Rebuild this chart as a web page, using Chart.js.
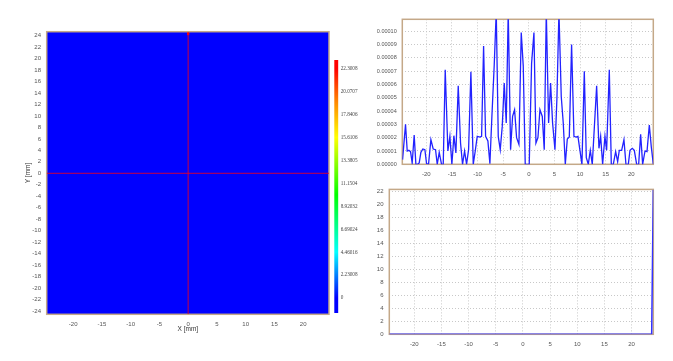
<!DOCTYPE html>
<html><head><meta charset="utf-8">
<script src="https://cdn.jsdelivr.net/npm/chart.js@4/dist/chart.umd.min.js"></script>
<style>
html,body{margin:0;padding:0;background:#fff;width:673px;height:361px;overflow:hidden;position:relative;}
canvas{position:absolute;}
</style></head><body>
<canvas id="heat" style="left:0;top:0;width:333px;height:361px" width="333" height="361"></canvas>
<canvas id="cbar" style="left:330px;top:0;width:43px;height:361px" width="43" height="361"></canvas>
<canvas id="profx" style="left:360px;top:0;width:313px;height:180px" width="313" height="180"></canvas>
<canvas id="profy" style="left:360px;top:180px;width:313px;height:181px" width="313" height="181"></canvas>
<script>
// ---------------- data ----------------
// heat map (field in the X/Y plane)
const heatXTicks = [-20, -15, -10, -5, 0, 5, 10, 15, 20];
const heatYTicks = [-24, -22, -20, -18, -16, -14, -12, -10, -8, -6, -4, -2, 0, 2, 4, 6, 8, 10, 12, 14, 16, 18, 20, 22, 24];
const heatXRange = [-24.6, 24.5];
const heatYRange = [-24.6, 24.7];
const fieldBaseValue = 0;
const hotCellX = [0];
const hotCellY = [24.4];
const hotCellValue = [22.3008];
const cellWidth = 0.4;   // mm
const cellHeight = 0.6;  // mm
const cursorX = 0;
const cursorY = 0;

// colour bar
const cbTickValues = [22.3008, 20.0707, 17.8406, 15.6106, 13.3805, 11.1504, 8.92032, 6.69024, 4.46016, 2.23008, 0];
const cbTickLabels = ['22.3008', '20.0707', '17.8406', '15.6106', '13.3805', '11.1504', '8.92032', '6.69024', '4.46016', '2.23008', '0'];
const cbRange = [-1.46, 23.15];
const valueMin = 0;
const valueMax = 22.3008;

// profile along X (top right)
const profXPos = [-24.65, -24.07, -23.74, -23.42, -23.09, -22.77, -22.38, -22.05, -21.72, -21.40, -21.07, -20.68, -20.29, -19.97, -19.58, -19.12, -18.67, -18.21, -17.88, -17.49, -17.04, -16.71, -16.32, -15.80, -15.41, -15.02, -14.63, -14.24, -13.78, -13.33, -12.94, -12.54, -12.15, -11.76, -11.31, -10.85, -10.46, -10.07, -9.55, -9.22, -8.83, -8.44, -7.99, -7.60, -7.21, -6.75, -6.36, -5.97, -5.58, -5.19, -4.80, -4.41, -4.02, -3.56, -3.17, -2.78, -2.39, -1.93, -1.48, -1.09, -0.70, -0.31, 0.08, 0.54, 1.00, 1.39, 1.78, 2.17, 2.63, 3.01, 3.41, 3.86, 4.25, 4.64, 5.10, 5.49, 5.88, 6.33, 6.72, 7.12, 7.51, 7.90, 8.35, 8.81, 9.20, 9.59, 9.98, 10.37, 10.83, 11.22, 11.61, 12.00, 12.39, 13.24, 13.69, 14.02, 14.41, 14.86, 15.19, 15.71, 16.10, 16.49, 16.95, 17.34, 17.66, 18.12, 18.57, 18.96, 19.42, 19.75, 20.20, 20.59, 21.05, 21.44, 21.83, 22.22, 22.68, 23.07, 23.52, 23.91, 24.30];
const profXVal = [0.35e-5, 3.0e-5, 1.0e-5, 1.05e-5, 0.95e-5, 0.1e-5, 2.2e-5, 0, 0, 0.1e-5, 0.9e-5, 1.15e-5, 1.1e-5, 0.05e-5, 0, 1.85e-5, 1.15e-5, 1.1e-5, 0, 0.9e-5, 0, 0, 7.1e-5, 1.0e-5, 2.1e-5, 0, 2.15e-5, 0.85e-5, 5.9e-5, 1.6e-5, 0, 1.0e-5, 0, 1.1e-5, 6.95e-5, 0, 1.0e-5, 2.1e-5, 2.05e-5, 2.1e-5, 8.9e-5, 2.1e-5, 1.75e-5, 0.05e-5, 3.6e-5, 7.5e-5, 11.5e-5, 2.1e-5, 1.1e-5, 2.85e-5, 6.1e-5, 3.1e-5, 11.5e-5, 1.1e-5, 3.6e-5, 4.1e-5, 2.0e-5, 1.5e-5, 9.9e-5, 7.4e-5, 0, 0, 0, 7.6e-5, 9.9e-5, 1.6e-5, 2.0e-5, 4.1e-5, 3.6e-5, 1.1e-5, 11.5e-5, 3.1e-5, 6.1e-5, 3.1e-5, 1.1e-5, 5.0e-5, 11.5e-5, 5.1e-5, 3.1e-5, 0, 1.9e-5, 2.05e-5, 9.0e-5, 2.1e-5, 2.05e-5, 2.1e-5, 1.05e-5, 0, 7.0e-5, 0.5e-5, 0, 1.05e-5, 0, 5.9e-5, 1.2e-5, 2.1e-5, 0, 2.1e-5, 1.05e-5, 7.1e-5, 0, 0, 0.95e-5, 0.2e-5, 1.05e-5, 1.05e-5, 1.85e-5, 0, 0, 1.05e-5, 1.2e-5, 1.05e-5, 0, 0, 2.25e-5, 0, 1.0e-5, 0.95e-5, 2.95e-5, 1.3e-5, 0];
const profXTicks = [-20, -15, -10, -5, 0, 5, 10, 15, 20];
const profXYTicks = [0, 0.00001, 0.00002, 0.00003, 0.00004, 0.00005, 0.00006, 0.00007, 0.00008, 0.00009, 0.0001];
const profXRange = [-24.7, 24.3];
const profXYMax = 0.000109;

// profile along Y (bottom right)
const profYPos = [-24.6, 23.7, 24.0];
const profYVal = [0, 0, 22.3008];
const profYXTicks = [-20, -15, -10, -5, 0, 5, 10, 15, 20];
const profYYTicks = [0, 2, 4, 6, 8, 10, 12, 14, 16, 18, 20, 22];
const profYRange = [-24.6, 24.0];
const profYYMax = 22.37;

// ---------------- styling / helpers ----------------
Chart.defaults.font.family = "'Liberation Sans', Arial, sans-serif";
Chart.defaults.color = '#555';
const FRAME = '#c4a888';
const cmapStops = [[0, [0, 0, 255]], [0.2, [0, 255, 255]], [0.45, [0, 255, 0]], [0.7, [255, 255, 0]], [0.85, [255, 140, 0]], [1, [255, 0, 0]]];
function cmap(v) {
  let t = (v - valueMin) / (valueMax - valueMin);
  t = Math.max(0, Math.min(1, t));
  for (let i = 1; i < cmapStops.length; i++) {
    if (t <= cmapStops[i][0]) {
      const [t0, c0] = cmapStops[i - 1], [t1, c1] = cmapStops[i];
      const f = (t - t0) / (t1 - t0);
      return 'rgb(' + c0.map((c, j) => Math.round(c + (c1[j] - c) * f)).join(',') + ')';
    }
  }
  return 'rgb(255,0,0)';
}
const fixTicks = arr => s => { s.ticks = arr.map(v => ({value: v})); };
const framePlugin = {
  id: 'frame',
  beforeDatasetsDraw(chart) {
    const {ctx, chartArea: a} = chart;
    ctx.save();
    ctx.strokeStyle = FRAME; ctx.lineWidth = 1.5;
    ctx.strokeRect(a.left, a.top, a.width, a.height);
    ctx.restore();
  }
};
const heatPlugin = {
  id: 'heatcells',
  beforeDatasetsDraw(chart) {
    const {ctx, chartArea: a, scales: {x, y}} = chart;
    ctx.save();
    ctx.beginPath(); ctx.rect(a.left, a.top, a.width, a.height); ctx.clip();
    ctx.fillStyle = cmap(fieldBaseValue);
    ctx.fillRect(a.left, a.top, a.width, a.height);
    hotCellX.forEach((cx, i) => {
      const x0 = x.getPixelForValue(cx - cellWidth / 2), x1 = x.getPixelForValue(cx + cellWidth / 2);
      const y0 = y.getPixelForValue(hotCellY[i] + cellHeight / 2), y1 = y.getPixelForValue(hotCellY[i] - cellHeight / 2);
      ctx.fillStyle = cmap(hotCellValue[i]);
      ctx.fillRect(x0, y0, x1 - x0, y1 - y0);
    });
    ctx.restore();
  }
};
const tickFont = {size: 6};
const common = {responsive: false, animation: false, events: [], plugins: {legend: {display: false}, tooltip: {enabled: false}}};

// ---------------- heat map ----------------
new Chart(document.getElementById('heat'), {
  type: 'scatter',
  data: {datasets: [
    {data: [{x: cursorX, y: heatYRange[0]}, {x: cursorX, y: heatYRange[1]}], showLine: true, borderColor: 'rgba(235,0,30,0.85)', borderWidth: 1, pointRadius: 0},
    {data: [{x: heatXRange[0], y: cursorY}, {x: heatXRange[1], y: cursorY}], showLine: true, borderColor: 'rgba(235,0,30,0.85)', borderWidth: 1, pointRadius: 0}
  ]},
  options: Object.assign({}, common, {
    layout: {padding: {left: 0, right: 4, top: 31.7, bottom: 0}},
    scales: {
      x: {type: 'linear', min: heatXRange[0], max: heatXRange[1], afterBuildTicks: fixTicks(heatXTicks),
          grid: {display: false, drawTicks: false}, border: {display: false},
          ticks: {font: tickFont, padding: 6.1, maxRotation: 0, autoSkip: false},
          title: {display: true, text: 'X [mm]', color: '#333', font: {size: 6.5}, padding: {top: 0, bottom: 27.5}},
          afterFit: s => { s.height = 46.7; }},
      y: {type: 'linear', min: heatYRange[0], max: heatYRange[1], afterBuildTicks: fixTicks(heatYTicks),
          grid: {display: false, drawTicks: false}, border: {display: false},
          ticks: {font: tickFont, padding: 5.7, autoSkip: false},
          title: {display: true, text: 'Y [mm]', color: '#333', font: {size: 6.5}, padding: {top: 24.6, bottom: 0}},
          afterFit: s => { s.width = 46.7; }}
    }
  }),
  plugins: [heatPlugin, framePlugin]
});

// ---------------- colour bar ----------------
new Chart(document.getElementById('cbar'), {
  type: 'bar',
  data: {labels: [''], datasets: [{
    data: [[cbRange[0], cbRange[1]]], barPercentage: 1, categoryPercentage: 1, borderWidth: 0,
    backgroundColor: c => {
      const ch = c.chart, ys = ch.scales && ch.scales.y;
      if (!ys || !ch.chartArea) return cmap(0);
      const g = ch.ctx.createLinearGradient(0, ys.getPixelForValue(valueMin), 0, ys.getPixelForValue(valueMax));
      cmapStops.forEach(([t, col]) => g.addColorStop(t, 'rgb(' + col.join(',') + ')'));
      return g;
    }
  }]},
  options: Object.assign({}, common, {
    layout: {padding: {left: 4.3, right: 0, top: 60, bottom: 48}},
    scales: {
      x: {display: false},
      y: {position: 'right', min: cbRange[0], max: cbRange[1], afterBuildTicks: fixTicks(cbTickValues),
          grid: {display: false, drawTicks: false}, border: {display: false},
          ticks: {font: {size: 5.2, family: "'Liberation Serif', serif"}, color: '#444', padding: 2.4, autoSkip: false,
                  callback: (v, i) => cbTickLabels[i]},
          afterFit: s => { s.width = 34.7; }}
    }
  })
});

// ---------------- profile X ----------------
new Chart(document.getElementById('profx'), {
  type: 'scatter',
  data: {datasets: [{data: profXPos.map((x, i) => ({x: x, y: profXVal[i]})), showLine: true, borderColor: '#2222ff', borderWidth: 1.3, pointRadius: 0, tension: 0}]},
  options: Object.assign({}, common, {
    layout: {padding: {left: 0, right: 19.7, top: 19.3, bottom: 0}},
    scales: {
      x: {type: 'linear', min: profXRange[0], max: profXRange[1], afterBuildTicks: fixTicks(profXTicks),
          grid: {color: '#c8c8c8', drawTicks: false}, border: {display: false, dash: [1, 2]},
          ticks: {font: tickFont, padding: 6.1, maxRotation: 0, autoSkip: false},
          afterFit: s => { s.height = 15.7; }},
      y: {type: 'linear', min: 0, max: profXYMax, afterBuildTicks: fixTicks(profXYTicks),
          grid: {color: '#c8c8c8', drawTicks: false}, border: {display: false, dash: [1, 2]},
          ticks: {font: {size: 5.5}, padding: 5.6, autoSkip: false, callback: v => Number(v).toFixed(5)},
          afterFit: s => { s.width = 42.3; }}
    }
  }),
  plugins: [framePlugin]
});

// ---------------- profile Y ----------------
new Chart(document.getElementById('profy'), {
  type: 'scatter',
  data: {datasets: [{data: profYPos.map((x, i) => ({x: x, y: profYVal[i]})), showLine: true, borderColor: '#3333ff', borderWidth: 1.5, pointRadius: 0, tension: 0}]},
  options: Object.assign({}, common, {
    layout: {padding: {left: 0, right: 19.7, top: 9.3, bottom: 0}},
    scales: {
      x: {type: 'linear', min: profYRange[0], max: profYRange[1], afterBuildTicks: fixTicks(profYXTicks),
          grid: {color: '#c8c8c8', drawTicks: false}, border: {display: false, dash: [1, 2]},
          ticks: {font: tickFont, padding: 6.1, maxRotation: 0, autoSkip: false},
          afterFit: s => { s.height = 26.7; }},
      y: {type: 'linear', min: 0, max: profYYMax, afterBuildTicks: fixTicks(profYYTicks),
          grid: {color: '#c8c8c8', drawTicks: false}, border: {display: false, dash: [1, 2]},
          ticks: {font: tickFont, padding: 5.8, autoSkip: false},
          afterFit: s => { s.width = 29.3; }}
    }
  }),
  plugins: [framePlugin]
});
</script>
</body></html>
